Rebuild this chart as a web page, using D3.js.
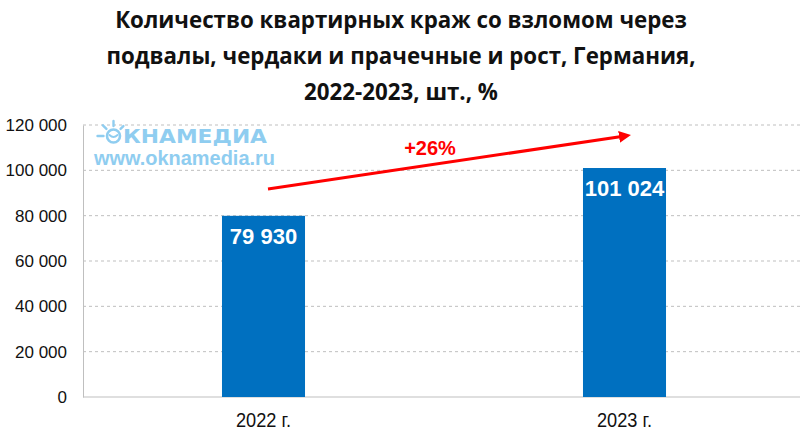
<!DOCTYPE html>
<html>
<head>
<meta charset="utf-8">
<script src="https://cdn.jsdelivr.net/npm/d3@7"></script>
<style>
  body { margin: 0; background: #fff; }
  svg { display: block; }
</style>
</head>
<body>
<div id="chart"></div>
<script>
// Данные
const years = ['2022 г.', '2023 г.'];
const values = [79930, 101024];
const yTicks = [0, 20000, 40000, 60000, 80000, 100000, 120000];
const growthLabel = '+26%';
const titleLines = [
  'Количество квартирных краж со взломом через',
  'подвалы, чердаки и прачечные и рост, Германия,',
  '2022-2023, шт., %'
];

const width = 800, height = 433;
const plotLeft = 83, plotRight = 805, plotTop = 125, plotBottom = 397;

const svg = d3.select('#chart')
  .append('svg')
  .attr('width', width)
  .attr('height', height);

const fmt = v => d3.format(',')(v).replace(/,/g, ' ');

const x = d3.scaleBand()
  .domain(years)
  .range([plotLeft, plotRight])
  .paddingInner(0.77)
  .paddingOuter(0.385);

const y = d3.scaleLinear()
  .domain([0, 120000])
  .range([plotBottom, plotTop]);

// Заголовок
svg.append('g')
  .selectAll('text')
  .data(titleLines)
  .enter()
  .append('text')
  .attr('x', 401)
  .attr('y', (d, i) => 28 + i * 36)
  .attr('text-anchor', 'middle')
  .attr('font-family', '"Liberation Sans Narrow", "Open Sans", sans-serif')
  .attr('font-weight', 'bold')
  .attr('font-size', '22.3px')
  .attr('fill', '#111')
  .text(d => d);

// Сетка
svg.append('g')
  .selectAll('line')
  .data(yTicks.filter(d => d > 0))
  .enter()
  .append('line')
  .attr('x1', plotLeft)
  .attr('x2', 800)
  .attr('y1', d => y(d))
  .attr('y2', d => y(d))
  .attr('stroke', '#bfbfbf')
  .attr('stroke-dasharray', '3,3');

// Ось Y
const yAxis = svg.append('g')
  .attr('transform', `translate(${plotLeft},0)`)
  .call(d3.axisLeft(y).tickValues(yTicks).tickFormat(fmt).tickSize(0).tickPadding(16));
yAxis.select('.domain').attr('stroke', '#bfbfbf');
yAxis.selectAll('text')
  .attr('font-family', '"Liberation Sans", Arial, sans-serif')
  .attr('font-size', '17px')
  .attr('fill', '#111');

// Ось X
const xAxis = svg.append('g')
  .attr('transform', `translate(0,${plotBottom})`)
  .call(d3.axisBottom(x).tickSize(0).tickPadding(16));
xAxis.select('.domain').attr('stroke', '#bfbfbf').attr('d', `M${plotLeft},0H800`);
xAxis.selectAll('text')
  .attr('font-family', '"Liberation Sans Narrow", "Liberation Sans", Arial, sans-serif')
  .attr('font-size', '19.5px')
  .attr('textLength', 55)
  .attr('lengthAdjust', 'spacingAndGlyphs')
  .attr('fill', '#111');

// Водяной знак
const wm = svg.append('g').attr('fill', '#8fcdf0');
const sun = wm.append('g').attr('stroke', '#8fcdf0').attr('stroke-linecap', 'round');
sun.append('circle')
  .attr('cx', 113.5).attr('cy', 136).attr('r', 6.5)
  .attr('fill', 'none').attr('stroke-width', 2.6);
sun.append('path')
  .attr('d', 'M109.5,135 Q113.5,139 117.5,135')
  .attr('fill', 'none').attr('stroke-width', 1.8);
sun.selectAll('line')
  .data([[-180, 6], [-135, 5], [-90, 5], [-45, 4]])
  .enter()
  .append('line')
  .attr('x1', d => 113.5 + Math.cos(d[0] * Math.PI / 180) * 10)
  .attr('y1', d => 136 + Math.sin(d[0] * Math.PI / 180) * 10)
  .attr('x2', d => 113.5 + Math.cos(d[0] * Math.PI / 180) * (10 + d[1]))
  .attr('y2', d => 136 + Math.sin(d[0] * Math.PI / 180) * (10 + d[1]))
  .attr('stroke-width', 2.4);
wm.append('text')
  .attr('x', 123).attr('y', 143)
  .attr('font-family', '"DejaVu Sans", Verdana, sans-serif')
  .attr('font-weight', 'bold')
  .attr('font-size', '19px')
  .attr('textLength', 144)
  .attr('lengthAdjust', 'spacingAndGlyphs')
  .text('КНАМЕДИА');
wm.append('text')
  .attr('x', 94).attr('y', 165)
  .attr('font-family', '"Liberation Sans", Arial, sans-serif')
  .attr('font-weight', 'bold')
  .attr('font-size', '19.5px')
  .attr('textLength', 181)
  .attr('lengthAdjust', 'spacingAndGlyphs')
  .text('www.oknamedia.ru');

// Столбцы
const bars = svg.append('g')
  .selectAll('.bar')
  .data(years.map((d, i) => ({ year: d, value: values[i] })))
  .enter()
  .append('g')
  .attr('class', 'bar');

bars.append('rect')
  .attr('x', d => x(d.year))
  .attr('y', d => y(d.value))
  .attr('width', x.bandwidth())
  .attr('height', d => plotBottom - y(d.value))
  .attr('fill', '#0070c0');

bars.append('text')
  .attr('x', d => x(d.year) + x.bandwidth() / 2)
  .attr('y', d => y(d.value) + 28)
  .attr('text-anchor', 'middle')
  .attr('font-family', '"Liberation Sans", Arial, sans-serif')
  .attr('font-weight', 'bold')
  .attr('font-size', '22px')
  .attr('fill', '#fff')
  .text(d => fmt(d.value));

// Стрелка роста
svg.append('defs').append('marker')
  .attr('id', 'arrow')
  .attr('viewBox', '0 0 10 10')
  .attr('refX', 5).attr('refY', 5)
  .attr('markerWidth', 4).attr('markerHeight', 4)
  .attr('orient', 'auto')
  .append('path')
  .attr('d', 'M0,0L10,5L0,10z')
  .attr('fill', '#ff0000');

svg.append('line')
  .attr('x1', 268).attr('y1', 189)
  .attr('x2', 625).attr('y2', 136)
  .attr('stroke', '#ff0000')
  .attr('stroke-width', 3)
  .attr('marker-end', 'url(#arrow)');

svg.append('text')
  .attr('x', 430).attr('y', 155)
  .attr('text-anchor', 'middle')
  .attr('font-family', '"Liberation Sans", Arial, sans-serif')
  .attr('font-weight', 'bold')
  .attr('font-size', '20px')
  .attr('fill', '#ff0000')
  .text(growthLabel);
</script>
</body>
</html>
